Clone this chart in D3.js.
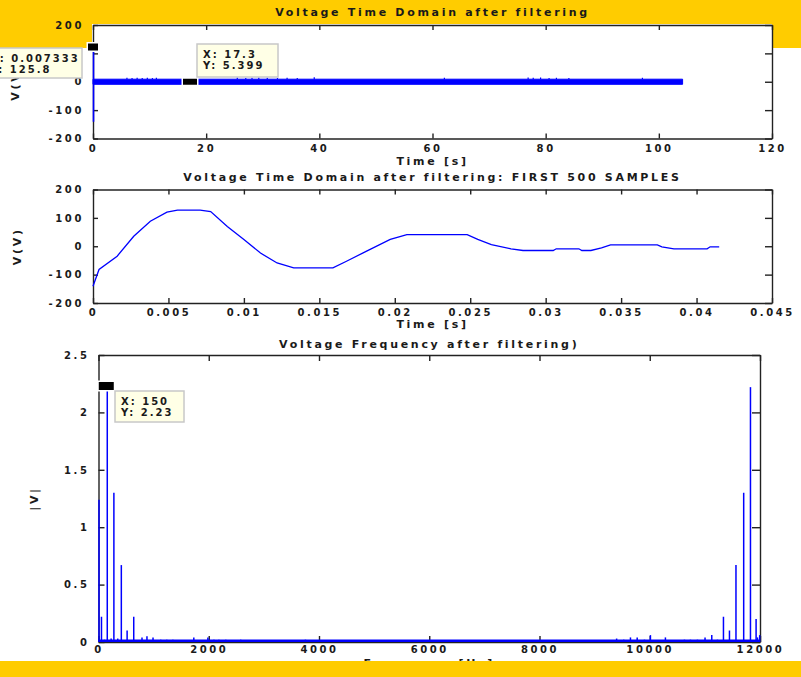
<!doctype html>
<html lang="en">
<head>
  <meta charset="UTF-8">
  <title>Voltage after filtering</title>
  <script src="https://cdn.jsdelivr.net/npm/d3@7"></script>
  <style>
    body { margin: 0; background: #FFCC00; overflow: hidden; }
    text { font-family: "DejaVu Sans", Verdana, sans-serif; font-weight: bold; font-size: 10px; letter-spacing: 2px; fill: #1a1a1a; }
    text.lbl { font-size: 11px; letter-spacing: 2.7px; }
  </style>
</head>
<body>
<div id="container"></div>
<script type="text/javascript">
// ---- top plot: whole record (compressed) ----
var topTicksX = [0, 20, 40, 60, 80, 100, 120];
var topTicksY = [-200, -100, 0, 100, 200];
var topStartVolt = [-141, 126];          // first 500 samples all sit at t ~ 0
var topBandTime = [0, 104.2];
var topBandLow = [-9, -9];
var topBandHigh = [9, 9];
var topSpikeTime = [6.0, 6.9, 7.8, 8.7, 9.6, 10.5, 11.2, 25.5, 27, 28.1, 29.3, 30.8, 32.6, 34.3, 36.1, 39.1,
                    62.1, 76.9, 77.8, 79.1, 80.6, 81.9, 84.1, 97.1];
var topSpikeVolt = [14, 13, 14, 13, 14, 13, 14, 15, 13, 14, 15, 14, 13, 14, 13, 16,
                    14, 15, 14, 15, 13, 14, 13, 14];

// ---- middle plot: first 500 samples ----
var midTicksX = [0, 0.005, 0.01, 0.015, 0.02, 0.025, 0.03, 0.035, 0.04, 0.045];
var midTicksY = [-200, -100, 0, 100, 200];
var midTime = [0, 0.0004, 0.0016, 0.0027, 0.0038, 0.0049, 0.0056, 0.0071, 0.0078, 0.0089, 0.0100, 0.0111,
               0.0122, 0.0133, 0.0159, 0.0168, 0.0181, 0.0197, 0.0204, 0.0208, 0.0248, 0.0255, 0.0264,
               0.0277, 0.0285, 0.0305, 0.0307, 0.0322, 0.0324, 0.0330, 0.0337, 0.0343, 0.0374, 0.0377,
               0.0385, 0.0407, 0.0409, 0.0415];
var midVolt = [-141, -82, -35, 35, 88, 120, 127, 127, 122, 70, 24, -24,
               -59, -76, -76, -53, -18, 24, 35, 41, 41, 24, 6,
               -9, -15, -15, -9, -9, -15, -15, -6, 5, 5, -2,
               -9, -9, -2, -2];

// ---- bottom plot: spectrum ----
var botTicksX = [0, 2000, 4000, 6000, 8000, 10000, 12000];
var botTicksY = [0, 0.5, 1, 1.5, 2, 2.5];
var freq = [0, 45, 100, 150, 220, 270, 340, 405, 510, 630, 780, 870, 980, 1120, 1230, 1340, 1720, 1975,
            2085, 2175, 2300, 2570, 3745,
            9390, 9519, 9641, 9763, 9895, 10003, 10275, 10620, 10729, 10856, 10994, 11116, 11219,
            11328, 11437, 11555, 11695, 11818, 11920, 11945, 11985];
var mag = [1.24, 0.22, 0.02, 2.23, 0.03, 1.30, 0.03, 0.67, 0.10, 0.22, 0.04, 0.05, 0.04, 0.02, 0.02, 0.02, 0.04, 0.04,
           0.02, 0.02, 0.02, 0.02, 0.02,
           0.03, 0.02, 0.04, 0.04, 0.02, 0.06, 0.04, 0.02, 0.02, 0.02, 0.04, 0.06, 0.02,
           0.22, 0.10, 0.67, 1.30, 2.22, 0.20, 0.04, 0.06];
var noiseFloor = 0.01;

var W = 801, H = 677;
var blue = '#0000FF';

var svg = d3.select('#container').append('svg')
  .attr('width', W).attr('height', H);

// white figure area, yellow slide around it
svg.append('rect').attr('x', 0).attr('y', 48).attr('width', W).attr('height', 613).attr('fill', '#fff');
svg.append('rect').attr('x', 92).attr('y', 24).attr('width', 680).attr('height', 30).attr('fill', '#fff');

function makeAxes(box, x, y, xt, yt, tick, pad) {
  var g = svg.append('g');
  var fmt = function(d) { return String(d); };
  g.append('g').attr('transform', 'translate(0,' + box.b + ')')
    .call(d3.axisBottom(x).tickValues(xt).tickFormat(fmt).tickSizeInner(-tick).tickSizeOuter(0).tickPadding(pad));
  g.append('g').attr('transform', 'translate(' + box.l + ',0)')
    .call(d3.axisLeft(y).tickValues(yt).tickFormat(fmt).tickSizeInner(-tick).tickSizeOuter(0).tickPadding(9));
  g.append('g').attr('transform', 'translate(0,' + box.t + ')')
    .call(d3.axisTop(x).tickValues(xt).tickFormat('').tickSizeInner(-tick).tickSizeOuter(0));
  g.append('g').attr('transform', 'translate(' + box.r + ',0)')
    .call(d3.axisRight(y).tickValues(yt).tickFormat('').tickSizeInner(-tick - 2).tickSizeOuter(0));
  g.selectAll('.domain, .tick line').attr('stroke', '#222').attr('stroke-width', 1.4);
  g.selectAll('.tick text').attr('fill', '#1a1a1a').style('font-size', '10px')
    .style('letter-spacing', '2.6px')
    .style('font-family', '"DejaVu Sans", Verdana, sans-serif');
  return g;
}

function titles(box, title, titleY, xlabel, xlabelY, ylabel, ylabelX) {
  var cx = (box.l + box.r) / 2;
  svg.append('text').attr('class', 'lbl').attr('x', cx).attr('y', titleY).attr('text-anchor', 'middle').text(title);
  svg.append('text').attr('class', 'lbl').attr('x', cx).attr('y', xlabelY).attr('text-anchor', 'middle').text(xlabel);
  svg.append('text').attr('class', 'lbl')
    .attr('transform', 'translate(' + ylabelX + ',' + ((box.t + box.b) / 2) + ') rotate(-90)')
    .attr('text-anchor', 'middle').text(ylabel);
}

function dataTip(mx, my, mw, mh, bx, by, bw, bh, lines) {
  svg.append('rect').attr('x', mx - mw / 2).attr('y', my - mh / 2).attr('width', mw).attr('height', mh)
    .attr('fill', '#000').attr('stroke', '#fff').attr('stroke-width', 3);
  svg.append('rect').attr('x', mx - mw / 2).attr('y', my - mh / 2).attr('width', mw).attr('height', mh)
    .attr('fill', '#000');
  svg.append('rect').attr('x', bx).attr('y', by).attr('width', bw).attr('height', bh)
    .attr('fill', '#FFFFE6').attr('stroke', '#c8c8c8').attr('stroke-width', 1.5);
  lines.forEach(function(s, i) {
    svg.append('text').attr('x', bx + 6).attr('y', by + 14 + i * 11).text(s);
  });
}

// ---------- top ----------
var topBox = {l: 93, r: 772, t: 25, b: 138.5};
var xTop = d3.scaleLinear().domain([0, 120]).range([topBox.l, topBox.r]);
var yTop = d3.scaleLinear().domain([-200, 200]).range([topBox.b, topBox.t]);
makeAxes(topBox, xTop, yTop, topTicksX, topTicksY, 5, 6);
titles(topBox, 'Voltage Time Domain after filtering', 16, 'Time [s]', 165, 'V(V)', 19);

var band = topBandTime.map(function(t, i) { return {t: t, lo: topBandLow[i], hi: topBandHigh[i]}; });
svg.append('path').datum(band)
  .attr('fill', blue).attr('stroke', blue).attr('stroke-width', 1)
  .attr('d', d3.area().x(function(d) { return xTop(d.t); })
    .y0(function(d) { return yTop(d.lo); }).y1(function(d) { return yTop(d.hi); }));
svg.append('line')
  .attr('x1', xTop(0) + 0.5).attr('x2', xTop(0) + 0.5)
  .attr('y1', yTop(topStartVolt[0])).attr('y2', yTop(topStartVolt[1]))
  .attr('stroke', blue).attr('stroke-width', 1.6);
svg.selectAll('.topSpike').data(topSpikeTime).enter().append('line')
  .attr('class', 'topSpike')
  .attr('x1', function(d) { return xTop(d); }).attr('x2', function(d) { return xTop(d); })
  .attr('y1', yTop(topBandHigh[0])).attr('y2', function(d, i) { return yTop(topSpikeVolt[i]); })
  .attr('stroke', blue).attr('stroke-width', 1.2);

// ---------- middle ----------
var midBox = {l: 93, r: 772, t: 189.5, b: 303};
var xMid = d3.scaleLinear().domain([0, 0.045]).range([midBox.l, midBox.r]);
var yMid = d3.scaleLinear().domain([-200, 200]).range([midBox.b, midBox.t]);
makeAxes(midBox, xMid, yMid, midTicksX, midTicksY, 5, 6);
titles(midBox, 'Voltage Time Domain after filtering: FIRST 500 SAMPLES', 181, 'Time [s]', 328, 'V(V)', 21);

svg.append('path').datum(midTime)
  .attr('fill', 'none').attr('stroke', blue).attr('stroke-width', 1.3)
  .attr('d', d3.line().x(function(d) { return xMid(d); }).y(function(d, i) { return yMid(midVolt[i]); }));

// ---------- bottom ----------
var botBox = {l: 98.5, r: 760, t: 355, b: 642};
var xBot = d3.scaleLinear().domain([0, 12000]).range([botBox.l, botBox.r]);
var yBot = d3.scaleLinear().domain([0, 2.5]).range([botBox.b, botBox.t]);
makeAxes(botBox, xBot, yBot, botTicksX, botTicksY, 6, 4);
titles(botBox, 'Voltage Frequency after filtering)', 348, 'Frequency [Hz]', 667, '|V|', 38);

svg.append('line')
  .attr('x1', xBot(0)).attr('x2', xBot(12000))
  .attr('y1', yBot(noiseFloor)).attr('y2', yBot(noiseFloor))
  .attr('stroke', blue).attr('stroke-width', 2.5);
svg.selectAll('.stem').data(freq).enter().append('line')
  .attr('class', 'stem')
  .attr('x1', function(d) { return xBot(d) + 0.5; }).attr('x2', function(d) { return xBot(d) + 0.5; })
  .attr('y1', yBot(0)).attr('y2', function(d, i) { return yBot(mag[i]); })
  .attr('stroke', blue).attr('stroke-width', 1.5);

// data tips
dataTip(xTop(0), 47, 10, 7, -16, 48, 98, 30, ['X: 0.007333', 'Y: 125.8']);
dataTip(190, yTop(0), 14, 6, 197, 44, 81, 33, ['X: 17.3', 'Y: 5.399']);
dataTip(xBot(150) - 0.5, yBot(2.23), 15, 8, 115, 391, 69, 31, ['X: 150', 'Y: 2.23']);

// yellow band at the bottom of the slide
svg.append('rect').attr('x', 0).attr('y', 661).attr('width', W).attr('height', H - 661).attr('fill', '#FFCC00');
</script>
</body>
</html>
